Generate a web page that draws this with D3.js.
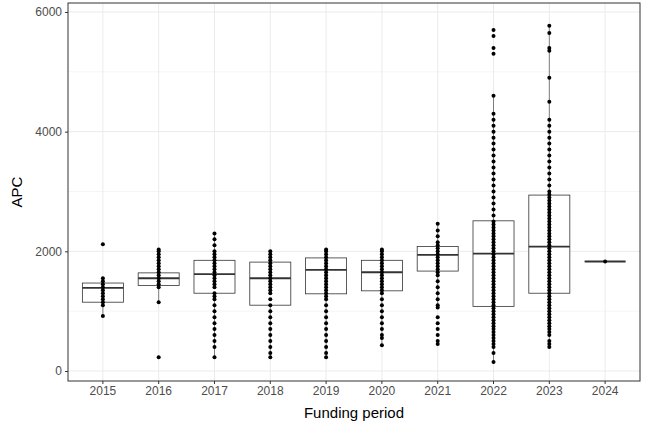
<!DOCTYPE html><html><head><script src="https://cdn.jsdelivr.net/npm/d3@7"></script>
<style>body{margin:0;background:#fff}text{font-family:"Liberation Sans",Arial,sans-serif}</style></head><body>
<script>
const years=["2015","2016","2017","2018","2019","2020","2021","2022","2023","2024"];
const q1=[1150,1430,1300,1100,1290,1340,1670,1080,1300,1830];
const med=[1390,1550,1620,1550,1690,1650,1940,1960,2080,1830];
const q3=[1470,1640,1850,1820,1890,1850,2080,2510,2940,1830];
const wlo=[920,1150,230,230,230,430,1060,150,400,1830];
const whi=[1550,2030,2300,2000,2030,2030,2460,4600,5770,1830];
const pts=[
[2120,1550,1500,1450,1400,1350,1300,1250,1200,1150,1100,920],
[2030,2000,1950,1900,1850,1800,1750,1700,1650,1600,1550,1500,1450,1400,1150,230],
[2300,2200,2100,2000,1950,1900,1850,1800,1750,1700,1650,1600,1550,1500,1450,1400,1300,1250,1200,1100,1000,900,800,700,600,500,400,230],
[2000,1950,1900,1850,1800,1750,1700,1650,1600,1550,1500,1450,1400,1350,1300,1200,1100,1000,900,800,700,600,500,400,300,230],
[2030,2000,1950,1900,1850,1800,1750,1700,1650,1600,1550,1500,1450,1400,1350,1300,1250,1200,1100,1000,900,800,700,600,500,400,300,230],
[2030,2000,1950,1900,1850,1800,1750,1700,1650,1600,1550,1500,1450,1400,1350,1300,1200,1100,1000,900,800,700,600,550,430],
[2460,2350,2250,2150,2100,2050,2000,1950,1900,1850,1800,1750,1700,1650,1600,1500,1400,1300,1200,1100,1060,900,800,700,600,500,450],
[5700,5600,5400,5300,4600,4300,4200,4100,4000,3900,3800,3700,3600,3500,3400,3300,3200,3100,3000,2900,2800,2700,2600,2500,2450,2400,2350,2300,2250,2200,2150,2100,2050,2000,1950,1900,1850,1800,1750,1700,1650,1600,1550,1500,1450,1400,1350,1300,1250,1200,1150,1100,1050,1000,950,900,850,800,750,700,650,600,550,500,450,400,300,150],
[5770,5650,5400,5350,4900,4500,4200,4100,4000,3900,3800,3700,3600,3500,3400,3300,3200,3100,3000,2950,2900,2850,2800,2750,2700,2650,2600,2550,2500,2450,2400,2350,2300,2250,2200,2150,2100,2050,2000,1950,1900,1850,1800,1750,1700,1650,1600,1550,1500,1450,1400,1350,1300,1250,1200,1150,1100,1050,1000,950,900,850,800,750,700,650,600,500,450,400],
[1830]];
const yTicks=[0,2000,4000,6000];
const W=648,H=432,m={l:68,r:8,t:3,b:51};
const svg=d3.select("body").append("svg").attr("width",W).attr("height",H);
const x=d3.scaleBand().domain(years).range([m.l,W-m.r]).padding(0.25);
const y=d3.scaleLinear().domain([-167,6150]).range([H-m.b,m.t]);
const g=svg.append("g");
[1000,3000,5000].forEach(v=>g.append("line").attr("x1",m.l).attr("x2",W-m.r).attr("y1",y(v)).attr("y2",y(v)).attr("stroke","#ebebeb").attr("stroke-width",0.5));
yTicks.forEach(v=>g.append("line").attr("x1",m.l).attr("x2",W-m.r).attr("y1",y(v)).attr("y2",y(v)).attr("stroke","#ebebeb").attr("stroke-width",1));
years.forEach(yr=>{const c=x(yr)+x.bandwidth()/2;g.append("line").attr("x1",c).attr("x2",c).attr("y1",m.t).attr("y2",H-m.b).attr("stroke","#ebebeb")});
years.forEach((yr,i)=>{
 const c=x(yr)+x.bandwidth()/2,bw=x.bandwidth()*0.98;
 g.append("line").attr("x1",c).attr("x2",c).attr("y1",y(whi[i])).attr("y2",y(q3[i])).attr("stroke","#333").attr("stroke-width",0.6);
 g.append("line").attr("x1",c).attr("x2",c).attr("y1",y(wlo[i])).attr("y2",y(q1[i])).attr("stroke","#333").attr("stroke-width",0.6);
 g.append("rect").attr("x",c-bw/2).attr("width",bw).attr("y",y(q3[i])).attr("height",Math.max(0,y(q1[i])-y(q3[i]))).attr("fill","#fff").attr("stroke","#333").attr("stroke-width",0.8);
 g.append("line").attr("x1",c-bw/2).attr("x2",c+bw/2).attr("y1",y(med[i])).attr("y2",y(med[i])).attr("stroke","#333").attr("stroke-width",1.8);
 g.selectAll(null).data(pts[i]).enter().append("circle").attr("cx",c).attr("cy",d=>y(d)).attr("r",2).attr("fill","#000");
});
g.append("rect").attr("x",m.l).attr("y",m.t).attr("width",W-m.r-m.l).attr("height",H-m.b-m.t).attr("fill","none").attr("stroke","#333").attr("stroke-width",1);
const ax=svg.append("g").attr("transform",`translate(0,${H-m.b})`).call(d3.axisBottom(x).tickSize(3).tickPadding(2));
const ay=svg.append("g").attr("transform",`translate(${m.l},0)`).call(d3.axisLeft(y).tickValues(yTicks).tickFormat(d3.format("d")).tickSize(3).tickPadding(3));
[ax,ay].forEach(a=>{a.select(".domain").remove();a.selectAll("line").attr("stroke","#333");a.selectAll("text").attr("fill","#4d4d4d").attr("font-size",12).attr("font-family","Liberation Sans, Arial")});
svg.append("text").attr("x",(m.l+W-m.r)/2).attr("y",418).attr("text-anchor","middle").attr("font-size",15).text("Funding period");
svg.append("text").attr("transform",`translate(22,${(m.t+H-m.b)/2}) rotate(-90)`).attr("text-anchor","middle").attr("font-size",15).text("APC");
</script></body></html>
